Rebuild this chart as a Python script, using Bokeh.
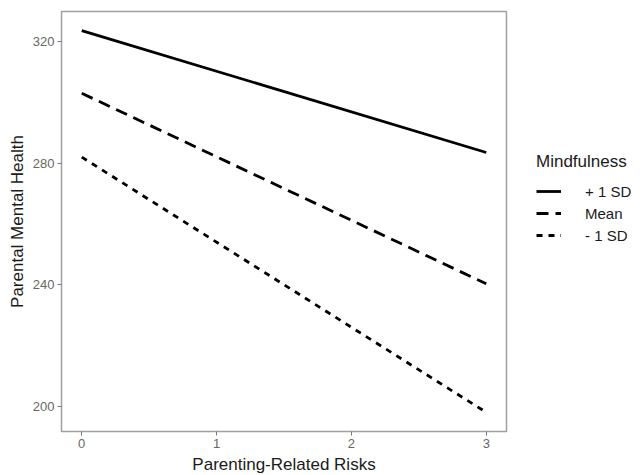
from bokeh.plotting import figure
from bokeh.models import Range1d, FixedTicker, Legend, LegendItem, Spacer
from bokeh.layouts import column, row
from bokeh.embed import file_html
from bokeh.resources import INLINE

# data
risk = [0, 3]
plus_sd = [323.6, 283.5]
mean_v = [303.0, 240.3]
minus_sd = [282.0, 198.0]
series_labels = ["+ 1 SD", "Mean", "- 1 SD"]
x_ticks = [0, 1, 2, 3]
y_ticks = [200, 240, 280, 320]

FONT = "Liberation Sans"

p = figure(frame_width=445, frame_height=420, output_backend="svg", toolbar_location=None,
           x_range=Range1d(-0.15, 3.15), y_range=Range1d(191.7, 329.9),
           min_border_left=54, min_border_top=3, min_border_right=136, min_border_bottom=0)

p.xgrid.visible = False
p.ygrid.visible = False
p.outline_line_color = "#a0a0a0"
p.outline_line_width = 1.5

r1 = p.line(risk, plus_sd, line_color="black", line_width=2.8)
r2 = p.line(risk, mean_v, line_color="black", line_width=2.8, line_dash="12 7")
r3 = p.line(risk, minus_sd, line_color="black", line_width=2.8, line_dash="6 6")

for ax in (p.xaxis[0], p.yaxis[0]):
    ax.axis_line_color = None
    ax.major_tick_line_color = "#7a7a7a"
    ax.major_tick_in = 0
    ax.major_tick_out = 4
    ax.minor_tick_line_color = None
    ax.major_label_text_font = FONT
    ax.major_label_text_font_size = "13px"
    ax.major_label_text_color = "#666666"
    ax.axis_label_text_font = FONT
    ax.axis_label_text_font_size = "17px"
    ax.axis_label_text_font_style = "normal"
    ax.axis_label_text_color = "#1a1a1a"

p.xaxis.ticker = FixedTicker(ticks=x_ticks)
p.yaxis.ticker = FixedTicker(ticks=y_ticks)
p.xaxis.axis_label = "Parenting-Related Risks"
p.yaxis.axis_label = "Parental Mental Health"
p.xaxis.major_label_standoff = 3
p.xaxis.axis_label_standoff = 4
p.yaxis.major_label_standoff = 3
p.yaxis.axis_label_standoff = 3

legend = Legend(items=[LegendItem(label=series_labels[0], renderers=[r1]),
                       LegendItem(label=series_labels[1], renderers=[r2]),
                       LegendItem(label=series_labels[2], renderers=[r3])],
                location=(30, 186),
                title="Mindfulness", title_text_font=FONT, title_text_font_size="17px",
                title_text_font_style="normal", title_text_color="#1a1a1a", title_standoff=9,
                label_text_font=FONT, label_text_font_size="15px", label_text_color="#1a1a1a",
                glyph_width=25, glyph_height=20, label_height=20, spacing=2, label_standoff=24,
                padding=5, margin=0,
                border_line_color=None, background_fill_alpha=0)
p.add_layout(legend, "right")

layout = column(Spacer(height=8), row(Spacer(width=4), p))

open("out.html", "w").write(file_html(layout, INLINE))
